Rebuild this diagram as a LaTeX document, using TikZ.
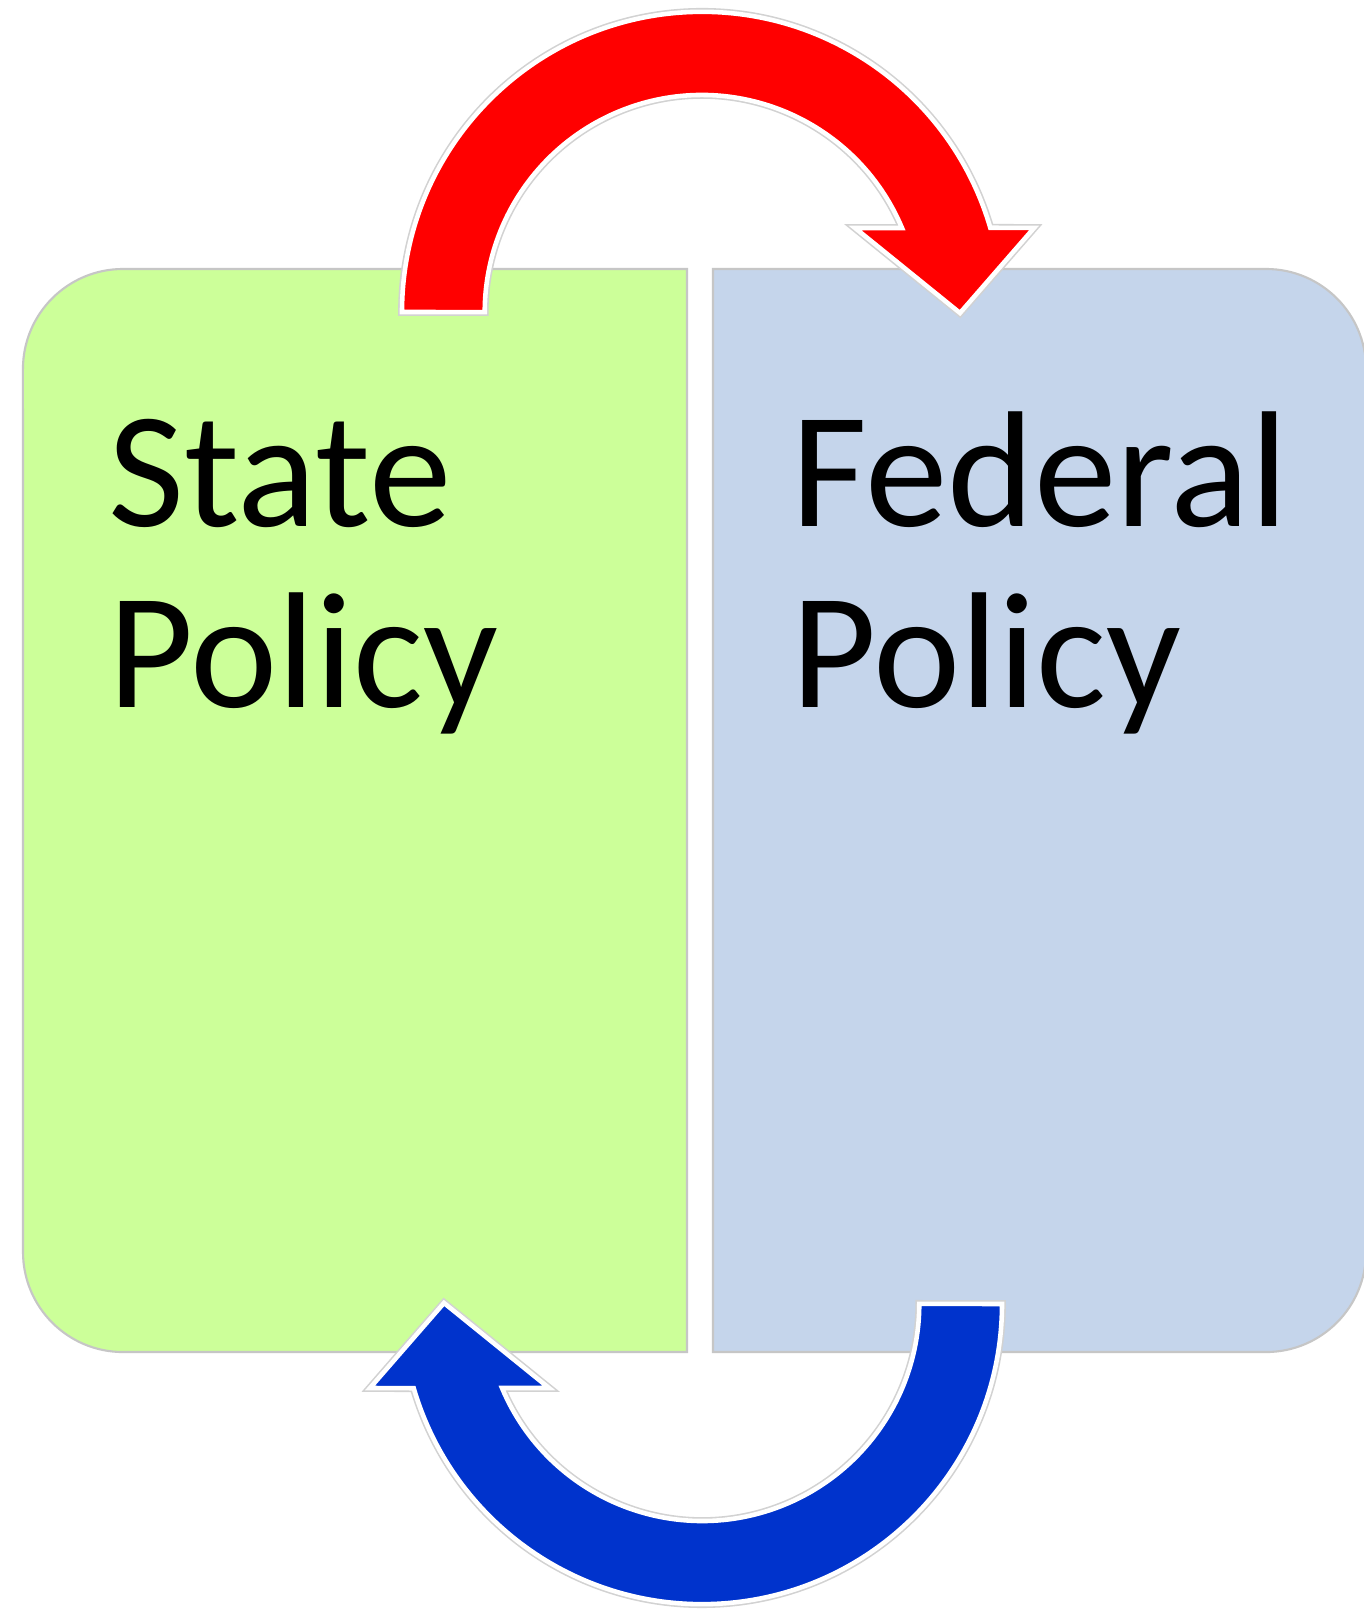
\documentclass[tikz,border=0pt]{standalone}
\usepackage{fontspec}
\setmainfont{Carlito}
\definecolor{statefill}{RGB}{204,255,153}
\definecolor{fedfill}{RGB}{197,213,235}
\definecolor{arrowred}{RGB}{255,0,0}
\definecolor{arrowblue}{RGB}{0,51,204}

\begin{document}
\begin{tikzpicture}[x=0.01cm,y=0.01cm,
    box/.style={draw=gray!45,line width=0.6pt},
    bigarrow/.style={preaction={draw=gray!35,line width=2.2pt},draw=white,line width=1.3pt},
    policytext/.style={font=\fontsize{47}{52}\selectfont,anchor=base west,inner sep=0pt}]
      \useasboundingbox (0,0) rectangle (1364,1609);
      \fill[white] (0,0) rectangle (1364,1609);
      \draw[box,fill=statefill] (687,257) -- (687,1340) -- (123,1340)
        arc[start angle=90,end angle=180,radius=1cm] -- (23,357)
        arc[start angle=180,end angle=270,radius=1cm] -- cycle;
      \draw[box,fill=fedfill] (713,257) -- (713,1340) -- (1266,1340)
        arc[start angle=90,end angle=0,radius=1cm] -- (1366,357)
        arc[start angle=0,end angle=-90,radius=1cm] -- cycle;
      \node[policytext] (state) at (108,1082) {State};
      \node[policytext] (statepolicy) at (108,901) {Policy};
      \node[policytext] (federal) at (791,1082) {Federal};
      \node[policytext] (federalpolicy) at (791,901) {Policy};
      \draw[bigarrow,fill=arrowred] (402,1297)
        arc[start angle=180,end angle=16.3,radius=3cm] -- (1034,1381)
        -- (960,1296) -- (855,1381) -- (902,1381)
        arc[start angle=22.8,end angle=180,radius=2.17cm] -- cycle;
      \draw[bigarrow,fill=arrowblue] (1002,305)
        arc[start angle=0,end angle=-163.7,radius=3cm] -- (370,221)
        -- (444,306) -- (549,221) -- (502,221)
        arc[start angle=-157.2,end angle=0,radius=2.17cm] -- cycle;
    \end{tikzpicture}
\end{document}
